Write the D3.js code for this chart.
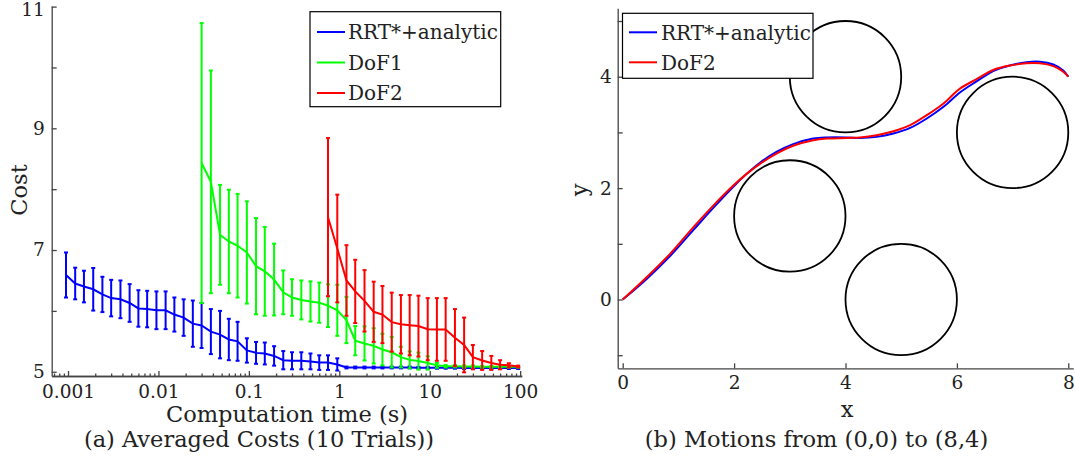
<!DOCTYPE html>
<html>
<head>
<meta charset="utf-8">
<script src="https://cdnjs.cloudflare.com/ajax/libs/d3/7.8.5/d3.min.js"></script>
<style>
  body { margin: 0; background: #fff; }
  text { font-family: "DejaVu Serif", serif; fill: #222; }
  .axis path, .axis line { stroke: #444; stroke-width: 1.3; }
  .axis text { font-family: "DejaVu Serif", serif; font-size: 18.5px; fill: #222; }
</style>
</head>
<body>
<div id="chart"></div>
<script>
// computation time (s), 10 samples per decade
var times = [0.00095, 0.0012, 0.0015, 0.0019, 0.0024, 0.0030, 0.0038, 0.0048, 0.0060, 0.0075,
             0.0095, 0.012, 0.015, 0.019, 0.024, 0.030, 0.038, 0.048, 0.060, 0.075,
             0.095, 0.12, 0.15, 0.19, 0.24, 0.30, 0.38, 0.48, 0.60, 0.75,
             0.95, 1.2, 1.5, 1.9, 2.4, 3.0, 3.8, 4.8, 6.0, 7.5,
             9.5, 12, 15, 19, 24, 30, 38, 48, 60, 75, 95];

var rrtMean = [6.59, 6.45, 6.40, 6.355, 6.27, 6.21, 6.19, 6.13, 6.04, 6.03,
               6.01, 6.01, 5.94, 5.89, 5.79, 5.76, 5.66, 5.61, 5.53, 5.50,
               5.35, 5.31, 5.30, 5.26, 5.19, 5.18, 5.18, 5.17, 5.15, 5.15,
               5.12, 5.07, 5.07, 5.07, 5.07, 5.07, 5.07, 5.07, 5.07, 5.065,
               5.065, 5.065, 5.065, 5.065, 5.06, 5.06, 5.06, 5.06, 5.06, 5.06, 5.06];
var rrtStd  = [0.37, 0.26, 0.26, 0.35, 0.29, 0.30, 0.31, 0.31, 0.30, 0.30,
               0.31, 0.31, 0.28, 0.30, 0.38, 0.37, 0.37, 0.39, 0.34, 0.32,
               0.20, 0.18, 0.18, 0.16, 0.15, 0.14, 0.14, 0.13, 0.12, 0.12,
               0.10, 0.015, 0.015, 0.015, 0.015, 0.015, 0.015, 0.015, 0.015, 0.015,
               0.015, 0.015, 0.015, 0.015, 0.015, 0.015, 0.015, 0.015, 0.015, 0.015, 0.015];

var dof1Mean = [null, null, null, null, null, null, null, null, null, null,
                null, null, null, null, null, 8.43, 8.12, 7.25, 7.14, 7.07,
                6.96, 6.735, 6.65, 6.515, 6.305, 6.22, 6.18, 6.155, 6.135, 6.085,
                6.01, 5.85, 5.51, 5.465, 5.425, 5.365, 5.32, 5.24, 5.195, 5.175,
                5.145, 5.105, 5.09, 5.09, 5.085, 5.085, 5.08, 5.08, 5.08, 5.08, 5.08];
var dof1Std  = [null, null, null, null, null, null, null, null, null, null,
                null, null, null, null, null, 2.30, 1.83, 0.82, 0.85, 0.85,
                0.84, 0.79, 0.73, 0.59, 0.36, 0.30, 0.32, 0.33, 0.33, 0.35,
                0.42, 0.38, 0.24, 0.28, 0.29, 0.26, 0.25, 0.17, 0.14, 0.14,
                0.11, 0.04, 0.02, 0.02, 0.02, 0.02, 0.015, 0.015, 0.015, 0.015, 0.015];

var dof2Mean = [null, null, null, null, null, null, null, null, null, null,
                null, null, null, null, null, null, null, null, null, null,
                null, null, null, null, null, null, null, null, null, 7.54,
                7.025, 6.50, 6.32, 6.165, 5.985, 5.94, 5.815, 5.78, 5.765, 5.75,
                5.70, 5.695, 5.695, 5.56, 5.44, 5.24, 5.185, 5.145, 5.115, 5.105, 5.085];
var dof2Std  = [null, null, null, null, null, null, null, null, null, null,
                null, null, null, null, null, null, null, null, null, null,
                null, null, null, null, null, null, null, null, null, 1.30,
                0.885, 0.58, 0.52, 0.505, 0.495, 0.47, 0.485, 0.48, 0.495, 0.50,
                0.51, 0.515, 0.515, 0.47, 0.45, 0.20, 0.155, 0.115, 0.075, 0.035, 0.015];

var xMajor = [0.001, 0.01, 0.1, 1, 10, 100];
var xMajorLabels = ["0.001", "0.01", "0.1", "1", "10", "100"];
var yTicksLeft = [5, 6, 7, 8, 9, 10, 11];

// obstacles (center x, center y, radius) and paths for panel (b)
var obstacles = [[4, 4, 1], [3, 1.5, 1], [7, 3, 1], [5, 0, 1]];
var rrtPath = [[0, 0], [0.43, 0.37], [0.85, 0.78], [1.27, 1.25], [1.63, 1.65], [1.99, 2.03],
               [2.23, 2.26], [2.47, 2.46], [2.76, 2.65], [3.06, 2.79], [3.42, 2.89], [3.66, 2.91],
               [4.02, 2.91], [4.26, 2.90], [4.56, 2.92], [4.86, 2.98], [5.16, 3.08], [5.46, 3.25],
               [5.76, 3.46], [6.06, 3.72], [6.36, 3.92], [6.65, 4.10], [6.95, 4.20], [7.25, 4.26],
               [7.49, 4.27], [7.73, 4.22], [7.91, 4.11], [8.0, 4.0]];
var dof2Path = [[0, 0], [0.43, 0.40], [0.85, 0.82], [1.27, 1.30], [1.63, 1.69], [1.99, 2.05],
                [2.23, 2.26], [2.47, 2.44], [2.76, 2.62], [3.06, 2.76], [3.42, 2.86], [3.66, 2.89],
                [4.02, 2.90], [4.26, 2.91], [4.56, 2.95], [4.86, 3.02], [5.16, 3.13], [5.46, 3.31],
                [5.76, 3.52], [6.06, 3.79], [6.36, 3.96], [6.65, 4.12], [6.95, 4.20], [7.25, 4.24],
                [7.49, 4.24], [7.73, 4.19], [7.91, 4.09], [8.0, 4.0]];
var yTicksRight = [-1, 0, 1, 2, 3, 4, 5];
var xTicksRight = [0, 2, 4, 6, 8];

var svg = d3.select('#chart').append('svg')
    .attr('width', 1075)
    .attr('height', 462);

svg.append('rect').attr('width', 1075).attr('height', 462).attr('fill', '#fff');

// ---------- panel (a) ----------
var x = d3.scaleLog().domain([0.00066, 104]).range([51.7, 521.7]);
var y = d3.scaleLinear().domain([4.93, 11.01]).range([376, 6]);

var minors = [];
[0.0001, 0.001, 0.01, 0.1, 1, 10, 100].forEach(function(d) {
  for (var m = 2; m <= 9; m++) {
    var v = d * m;
    if (v > x.domain()[0] && v < x.domain()[1]) minors.push(v);
  }
});

var gA = svg.append('g');

gA.append('g')
    .attr('class', 'axis')
    .attr('transform', 'translate(0,376)')
    .call(d3.axisBottom(x).tickValues(minors).tickSizeInner(-2.5).tickSizeOuter(0).tickFormat(''));

gA.append('g')
    .attr('class', 'axis')
    .attr('transform', 'translate(0,376)')
    .call(d3.axisBottom(x).tickValues(xMajor).tickSizeInner(-5).tickSizeOuter(0).tickPadding(9)
      .tickFormat(function(d, i) { return xMajorLabels[i]; }));

gA.append('g')
    .attr('class', 'axis')
    .attr('transform', 'translate(51.7,0)')
    .call(d3.axisLeft(y).tickValues(yTicksLeft).tickSizeInner(-5).tickSizeOuter(0).tickPadding(7)
      .tickFormat(function(d) { return d % 2 ? d : ''; }))
  .selectAll('.tick text')
    .attr('dy', function(d) { return d === 11 ? '0.5em' : '0.32em'; });

function series(mean, std, color) {
  var pts = times.map(function(t, i) { return {t: t, m: mean[i], s: std[i]}; })
                 .filter(function(d) { return d.m != null; });
  var g = gA.append('g');
  g.selectAll('.bar').data(pts).enter().append('line')
    .attr('x1', function(d) { return x(d.t); })
    .attr('x2', function(d) { return x(d.t); })
    .attr('y1', function(d) { return y(d.m - d.s); })
    .attr('y2', function(d) { return y(d.m + d.s); })
    .attr('stroke', color).attr('stroke-width', 2);
  [1, -1].forEach(function(k) {
    g.selectAll('.cap' + k).data(pts).enter().append('line')
      .attr('x1', function(d) { return x(d.t) - 2; })
      .attr('x2', function(d) { return x(d.t) + 2; })
      .attr('y1', function(d) { return y(d.m + k * d.s); })
      .attr('y2', function(d) { return y(d.m + k * d.s); })
      .attr('stroke', color).attr('stroke-width', 2);
  });
  g.append('path')
    .datum(pts)
    .attr('fill', 'none')
    .attr('stroke', color)
    .attr('stroke-width', 2)
    .attr('d', d3.line().x(function(d) { return x(d.t); }).y(function(d) { return y(d.m); }));
}

series(rrtMean, rrtStd, '#0000ff');
series(dof1Mean, dof1Std, '#00ff00');
series(dof2Mean, dof2Std, '#ff0000');

// legend (a)
var legA = [['RRT*+analytic', '#0000ff'], ['DoF1', '#00ff00'], ['DoF2', '#ff0000']];
gA.append('rect')
  .attr('x', 310).attr('y', 11.7).attr('width', 190.7).attr('height', 95)
  .attr('fill', '#fff').attr('stroke', '#000').attr('stroke-width', 1.2);
legA.forEach(function(d, i) {
  var ly = 32 + i * 30.5;
  gA.append('line').attr('x1', 317).attr('x2', 345).attr('y1', ly).attr('y2', ly)
    .attr('stroke', d[1]).attr('stroke-width', 2);
  gA.append('text').attr('x', 348).attr('y', ly).attr('dy', '0.36em')
    .style('font-size', '20px').text(d[0]);
});

gA.append('text')
  .attr('x', 287).attr('y', 421.5)
  .attr('text-anchor', 'middle').style('font-size', '22.5px')
  .text('Computation time (s)');

gA.append('text')
  .attr('transform', 'translate(27,190) rotate(-90)')
  .attr('text-anchor', 'middle').style('font-size', '22.5px')
  .text('Cost');

gA.append('text')
  .attr('x', 259).attr('y', 446.5)
  .attr('text-anchor', 'middle').style('font-size', '22.5px')
  .text('(a) Averaged Costs (10 Trials))');

// ---------- panel (b) ----------
var x2 = d3.scaleLinear().domain([-0.09, 8.09]).range([617.7, 1073.3]);
var y2 = d3.scaleLinear().domain([-1.235, 5.23]).range([368.3, 8.2]);

var gB = svg.append('g');

gB.append('g')
    .attr('class', 'axis')
    .attr('transform', 'translate(0,368.3)')
    .call(d3.axisBottom(x2).tickValues(xTicksRight).tickSizeInner(-5).tickSizeOuter(0).tickPadding(8));

gB.append('g')
    .attr('class', 'axis')
    .attr('transform', 'translate(617.7,0)')
    .call(d3.axisLeft(y2).tickValues(yTicksRight).tickSizeInner(-5).tickSizeOuter(0).tickPadding(6)
      .tickFormat(function(d) { return (d >= 0 && d % 2 === 0) ? d : ''; }));

gB.selectAll('.obstacle').data(obstacles).enter().append('ellipse')
  .attr('cx', function(d) { return x2(d[0]); })
  .attr('cy', function(d) { return y2(d[1]); })
  .attr('rx', function(d) { return x2(d[2]) - x2(0); })
  .attr('ry', function(d) { return y2(0) - y2(d[2]); })
  .attr('fill', 'none').attr('stroke', '#000').attr('stroke-width', 1.8);

var pathLine = d3.line()
  .x(function(d) { return x2(d[0]); })
  .y(function(d) { return y2(d[1]); })
  .curve(d3.curveCatmullRom);

gB.append('path').datum(rrtPath).attr('d', pathLine)
  .attr('fill', 'none').attr('stroke', '#0000ff').attr('stroke-width', 2);
gB.append('path').datum(dof2Path).attr('d', pathLine)
  .attr('fill', 'none').attr('stroke', '#ff0000').attr('stroke-width', 2);

// legend (b)
var legB = [['RRT*+analytic', '#0000ff'], ['DoF2', '#ff0000']];
svg.append('clipPath').attr('id', 'legclip')
  .append('rect').attr('x', 622.5).attr('y', 13.3).attr('width', 190.5).attr('height', 65);
gB.append('rect')
  .attr('x', 622.5).attr('y', 13.3).attr('width', 190.5).attr('height', 65)
  .attr('fill', '#fff').attr('stroke', '#000').attr('stroke-width', 1.2);
legB.forEach(function(d, i) {
  var ly = 32.3 + i * 30;
  gB.append('line').attr('x1', 629).attr('x2', 657).attr('y1', ly).attr('y2', ly)
    .attr('stroke', d[1]).attr('stroke-width', 2);
  gB.append('text').attr('x', 661).attr('y', ly).attr('dy', '0.36em')
    .attr('clip-path', 'url(#legclip)')
    .style('font-size', '20px').text(d[0]);
});

gB.append('text')
  .attr('x', 847).attr('y', 416.5)
  .attr('text-anchor', 'middle').style('font-size', '22.5px')
  .text('x');

gB.append('text')
  .attr('transform', 'translate(587,190) rotate(-90)')
  .attr('text-anchor', 'middle').style('font-size', '22.5px')
  .text('y');

gB.append('text')
  .attr('x', 816.5).attr('y', 446.5)
  .attr('text-anchor', 'middle').style('font-size', '22.5px')
  .text('(b) Motions from (0,0) to (8,4)');
</script>
</body>
</html>
